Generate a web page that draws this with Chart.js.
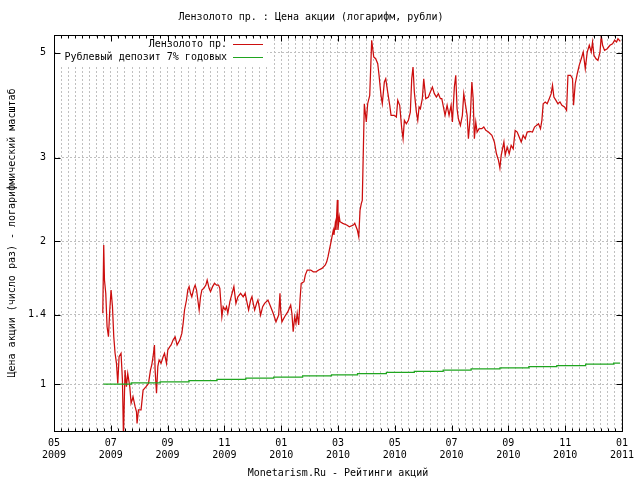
<!DOCTYPE html>
<html>
<head>
<meta charset="utf-8">
<script src="https://cdn.jsdelivr.net/npm/chart.js@4.4.0/dist/chart.umd.min.js"></script>
<style>
  html, body { margin: 0; padding: 0; background: #fff; }
  canvas { display: block; }
</style>
</head>
<body>
<canvas id="chart" width="640" height="480"></canvas>
<script>
// ----------------------------------------------------
//                DATA
// ----------------------------------------------------
// x = days since 2009-05-01
const priceLabel = "Лензолото пр.";
const priceDays = [
  52.4, 53.4, 54.2, 55.6, 57.0, 58.5, 59.9, 61.3, 62.8, 64.2, 65.6, 67.1, 68.5, 69.9, 72.0, 73.5,
  74.6, 76.3, 77.8, 79.2, 81.4, 82.8, 84.9, 87.1, 88.6, 89.2, 90.7, 93.5, 95.7, 98.9, 101.5, 103.6,
  105.0, 106.4, 107.9, 108.6, 110.1, 111.5, 112.9, 115.0, 117.2, 118.7, 120.8, 122.2, 124.4, 125.8,
  127.9, 130.1, 132.2, 135.1, 137.3, 138.7, 140.2, 142.3, 143.7, 145.1, 146.6, 148.0, 150.2, 151.6,
  153.1, 154.5, 155.9, 157.4, 158.8, 160.9, 163.1, 164.5, 166.6, 168.1, 170.3, 172.4, 174.6, 176.7,
  178.1, 180.3, 181.7, 183.8, 185.3, 186.7, 188.9,
  193.2, 195.4, 197.5, 200.4, 203.2, 205.3, 207.5, 209.0, 211.2, 212.6, 214.0, 215.5, 217.6, 219.0,
  220.4, 221.9, 224.1, 226.2, 229.8, 232.7, 235.4, 238.4, 241.3, 242.7, 243.4, 244.8, 247.7, 251.2,
  254.2, 255.5, 256.9, 258.5, 259.9, 261.2, 262.8, 264.2, 265.5, 268.5, 269.9, 272.0, 275.7, 278.5,
  281.4, 284.3, 287.8, 291.4, 292.9, 294.3, 295.7, 297.2, 298.6, 300.0, 300.7, 302.1, 302.9, 304.3,
  305.0, 306.4, 307.2, 310.1, 314.4, 317.2, 321.5, 323.0, 325.8, 327.3, 328.7, 330.1,
  331.1, 333.3, 335.4, 336.9, 339.1, 341.2, 343.4, 345.5, 347.7, 349.1, 351.2, 352.6, 354.8, 356.3,
  358.4, 360.6, 362.0, 365.5, 367.7, 369.2, 371.3, 373.5, 374.9, 376.3, 378.4, 380.6, 382.7, 384.2,
  385.6, 387.0, 389.2, 390.7, 392.1, 393.5, 395.6, 397.1, 399.3, 402.1, 404.2, 406.4, 408.5, 410.7,
  412.8, 415.0, 416.5, 418.6, 420.0, 422.2, 424.3, 426.5, 427.9, 430.0, 431.5, 432.9, 434.3, 436.5,
  438.6, 440.1, 441.5, 443.7, 445.1, 447.2, 448.8, 450.2, 451.5, 453.0, 454.4, 456.6, 459.5, 461.6,
  463.8,
  466.6, 470.3, 473.0, 475.2, 477.4, 478.9, 480.3, 483.2, 484.6, 486.7, 488.9, 491.0, 493.2, 495.3,
  497.5, 501.8, 503.9, 506.1, 508.2, 511.1, 513.9, 516.1, 518.2, 520.4, 522.5, 524.0, 525.4, 527.6,
  529.7, 531.9, 534.0, 535.4, 536.9, 539.1, 541.2, 543.4, 545.5, 548.3, 550.5, 552.0, 554.8, 556.9,
  558.0, 559.8, 562.0, 564.1, 566.3, 568.4, 570.6, 572.7, 574.9, 577.0, 578.4, 579.9, 582.1, 584.2,
  586.4, 587.8, 589.2, 591.3, 594.2, 597.1, 599.9, 602.1, 604.2, 605.7, 608.2
];
const prices = [
  1.410, 1.965, 1.657, 1.554, 1.321, 1.258, 1.433, 1.579, 1.456, 1.258, 1.161, 1.106, 1.003, 1.142, 1.161, 1.020,
  0.774, 1.070, 0.987, 1.053, 0.987, 0.911, 0.940, 0.896, 0.874, 0.826, 0.882, 0.882, 0.971, 0.987, 1.003, 1.070,
  1.097, 1.142, 1.209, 1.070, 0.956, 1.088, 1.124, 1.106, 1.142, 1.161, 1.106, 1.180, 1.199, 1.209,
  1.238, 1.258, 1.209, 1.238, 1.279, 1.343, 1.433, 1.504, 1.579, 1.605, 1.554, 1.528, 1.592, 1.617,
  1.579, 1.504, 1.433, 1.528, 1.579, 1.592, 1.617, 1.657, 1.592, 1.566, 1.605, 1.631, 1.617, 1.617,
  1.592, 1.387, 1.456, 1.433, 1.456, 1.410, 1.492,
  1.605, 1.480, 1.528, 1.554, 1.528, 1.554, 1.480, 1.433, 1.504, 1.528, 1.480, 1.433, 1.480, 1.504,
  1.456, 1.398, 1.456, 1.480, 1.504, 1.456, 1.410, 1.353, 1.398, 1.554, 1.433, 1.353, 1.387, 1.421,
  1.468, 1.410, 1.289, 1.387, 1.343, 1.410, 1.332, 1.504, 1.631, 1.644, 1.698, 1.740, 1.740, 1.725,
  1.725, 1.740, 1.754, 1.783, 1.811, 1.856, 1.917, 1.981, 2.046, 2.113, 2.063, 2.183, 2.113, 2.444,
  2.113, 2.254, 2.200, 2.183, 2.165, 2.147, 2.165, 2.183, 2.113, 2.046, 2.328, 2.406,
  2.441, 3.903, 3.571, 3.903, 4.066, 5.311, 4.897, 4.857, 4.740, 4.481, 4.066, 3.903, 4.337, 4.407,
  4.131, 3.873, 3.689, 3.689, 3.659, 3.968, 3.873, 3.457, 3.293, 3.600, 3.541, 3.600, 3.748, 4.407,
  4.665, 4.131, 3.748, 3.600, 3.841, 3.809, 3.999, 4.407, 3.999, 4.032, 4.131, 4.233, 4.098, 4.032,
  4.098, 3.999, 3.999, 3.809, 3.689, 3.873, 3.689, 3.873, 3.571, 4.233, 4.481, 3.809, 3.628, 3.513,
  3.689, 4.098, 3.935, 3.689, 3.293, 3.689, 4.337, 3.999, 3.293, 3.571, 3.401, 3.457, 3.457, 3.485,
  3.429,
  3.401, 3.347, 3.240, 3.061, 2.964, 2.855, 3.038, 3.240, 3.038, 3.162, 3.061, 3.189, 3.136, 3.429,
  3.401, 3.240, 3.347, 3.293, 3.401, 3.413, 3.401, 3.485, 3.513, 3.541, 3.457, 3.600, 3.903, 3.935,
  3.903, 3.999, 4.098, 4.268, 4.032, 3.968, 3.903, 3.935, 3.873, 3.841, 3.780, 4.481, 4.481, 4.407,
  3.873, 4.301, 4.515, 4.704, 4.857, 5.017, 4.627, 5.017, 5.184, 5.017, 5.267, 4.937, 4.857, 4.819,
  5.017, 5.423, 5.184, 5.058, 5.098, 5.184, 5.224, 5.311, 5.267, 5.352, 5.284
];

const depositLabel = "Рублевый депозит 7% годовых";
const depositDays = [53, 83, 114, 145, 175, 206, 236, 267, 298, 326, 357, 387, 418, 448, 479, 510, 540, 571, 601, 608];
const depositValues = [1.000, 1.006, 1.011, 1.017, 1.023, 1.029, 1.034, 1.040, 1.046, 1.052,
                       1.058, 1.064, 1.070, 1.076, 1.082, 1.088, 1.094, 1.101, 1.107, 1.107];

const xMonthLabels = ["05", "07", "09", "11", "01", "03", "05", "07", "09", "11", "01"];
const xYearLabels  = ["2009", "2009", "2009", "2009", "2010", "2010", "2010", "2010", "2010", "2010", "2011"];
const yTicks = [1, 1.4, 2, 3, 5];

const chartTitle = "Лензолото пр. : Цена акции (логарифм, рубли)";
const xTitle = "Monetarism.Ru - Рейтинги акций";
const yTitle = "Цена акции (число раз) - логарифмический масштаб";

// ----------------------------------------------------
//                SETTINGS
// ----------------------------------------------------
const FONT_FAMILY = "'DejaVu Sans Mono', 'Liberation Mono', monospace";
const TICK_STEP = 61;   // days between labelled ticks
const MINOR = 8;        // minor divisions per tick step

Chart.defaults.font.family = FONT_FAMILY;
Chart.defaults.font.size = 10;
Chart.defaults.color = "#000";

// border, mirrored ticks and the opaque key (gnuplot style)
const gnuFrame = {
  id: "gnuFrame",
  afterDatasetsDraw(chart) {
    const { ctx, chartArea: a, scales: { x, y } } = chart;
    ctx.save();

    // key
    ctx.fillStyle = "#fff";
    ctx.fillRect(a.left + 2, a.top + 2, 211, 28);
    ctx.font = "10px " + FONT_FAMILY;
    ctx.textAlign = "right";
    ctx.textBaseline = "middle";
    chart.data.datasets.forEach((ds, i) => {
      const ty = a.top + 9 + i * 13;
      ctx.fillStyle = "#000";
      ctx.fillText(ds.label, a.left + 173, ty);
      ctx.strokeStyle = ds.borderColor;
      ctx.lineWidth = 1;
      ctx.beginPath();
      ctx.moveTo(a.left + 179, ty + 0.5);
      ctx.lineTo(a.left + 209, ty + 0.5);
      ctx.stroke();
    });

    // frame
    ctx.strokeStyle = "#000";
    ctx.lineWidth = 1;
    ctx.strokeRect(a.left + 0.5, a.top + 0.5, a.right - a.left, a.bottom - a.top);

    // tick marks
    ctx.beginPath();
    x.ticks.forEach((t, i) => {
      const px = Math.round(x.getPixelForValue(t.value)) + 0.5;
      const len = i % MINOR === 0 ? 6 : 3;
      ctx.moveTo(px, a.bottom + 0.5); ctx.lineTo(px, a.bottom + 0.5 - len);
      ctx.moveTo(px, a.top + 0.5); ctx.lineTo(px, a.top + 0.5 + len);
    });
    y.ticks.forEach(t => {
      const py = Math.round(y.getPixelForValue(t.value)) + 0.5;
      ctx.moveTo(a.left + 0.5, py); ctx.lineTo(a.left + 6.5, py);
      ctx.moveTo(a.right + 0.5, py); ctx.lineTo(a.right - 5.5, py);
    });
    ctx.stroke();
    ctx.restore();
  }
};

// ----------------------------------------------------
//                CHART
// ----------------------------------------------------
const gridStyle = {
  color: "#c0c0c0",
  lineWidth: 1,
  drawTicks: false,
  borderDash: [2, 2]
};

new Chart(document.getElementById("chart"), {
  type: "line",
  data: {
    datasets: [
      {
        label: priceLabel,
        data: priceDays.map((d, i) => ({ x: d, y: prices[i] })),
        borderColor: "#cc0e0e",
        borderWidth: 1.25,
        pointRadius: 0,
        order: 1
      },
      {
        label: depositLabel,
        data: depositDays.map((d, i) => ({ x: d, y: depositValues[i] })),
        borderColor: "#1fa51f",
        borderWidth: 1.25,
        pointRadius: 0,
        stepped: true,
        order: 0
      }
    ]
  },
  options: {
    responsive: false,
    animation: false,
    devicePixelRatio: 1,
    layout: { padding: { left: 0, right: 18, top: 0, bottom: 0 } },
    plugins: {
      legend: { display: false },
      tooltip: { enabled: false },
      title: {
        display: true,
        text: chartTitle,
        color: "#000",
        font: { family: FONT_FAMILY, size: 10, weight: "normal" },
        padding: { top: 11, bottom: 12 }
      }
    },
    scales: {
      x: {
        type: "linear",
        min: 0,
        max: TICK_STEP * (xMonthLabels.length - 1),
        grid: gridStyle,
        border: { display: false, dash: [2, 2] },
        afterBuildTicks: s => {
          s.ticks = [];
          for (let i = 0; i <= (xMonthLabels.length - 1) * MINOR; i++) {
            s.ticks.push({ value: i * TICK_STEP / MINOR });
          }
        },
        ticks: {
          autoSkip: false,
          maxRotation: 0,
          minRotation: 0,
          padding: 6,
          callback: (v, i) => i % MINOR === 0 ? [xMonthLabels[i / MINOR], xYearLabels[i / MINOR]] : ""
        },
        title: { display: true, text: xTitle, padding: { top: 0, bottom: 1 } },
        afterFit: s => { s.height = 49; }
      },
      y: {
        type: "logarithmic",
        min: 0.796,
        max: 5.45,
        grid: gridStyle,
        border: { display: false, dash: [2, 2] },
        afterBuildTicks: s => { s.ticks = yTicks.map(v => ({ value: v })); },
        ticks: {
          padding: 8,
          callback: v => String(v)
        },
        title: { display: true, text: yTitle, padding: { top: 6, bottom: 0 } },
        afterFit: s => { s.width = 54; }
      }
    }
  },
  plugins: [gnuFrame]
});
</script>
</body>
</html>
